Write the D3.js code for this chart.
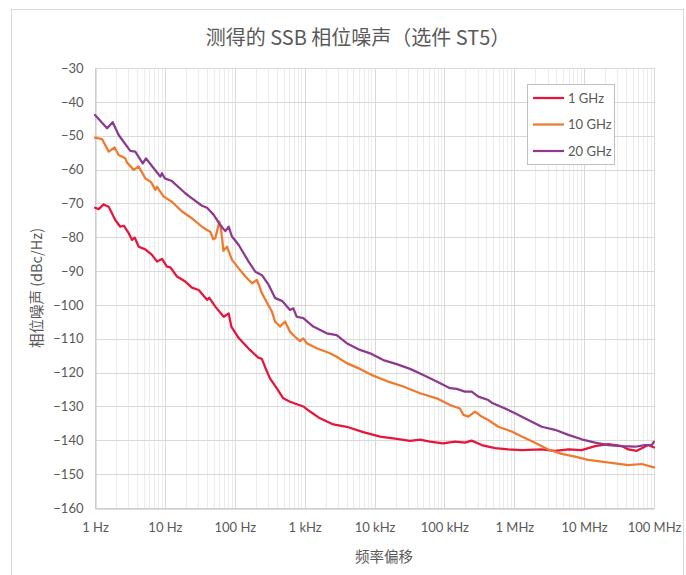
<!DOCTYPE html>
<html>
<head>
<meta charset="utf-8">
<script src="https://cdn.jsdelivr.net/npm/d3@7"></script>
<style>
  html, body { margin: 0; padding: 0; background: #fff; }
  svg { display: block; }
  text { font-family: Lato, "Noto Sans CJK SC", sans-serif; fill: #595959; }
</style>
</head>
<body>
<svg id="chart" width="686" height="575"></svg>
<script>
// Measured SSB phase noise, option ST5
const titleText = "测得的 SSB 相位噪声（选件 ST5）";
const xTitle = "频率偏移";
const yTitle = "相位噪声 (dBc/Hz)";

const xTickValues = [1, 10, 100, 1e3, 1e4, 1e5, 1e6, 1e7, 1e8];
const xTickLabels = ["1 Hz", "10 Hz", "100 Hz", "1 kHz", "10 kHz", "100 kHz", "1 MHz", "10 MHz", "100 MHz"];
const yTickValues = [-30, -40, -50, -60, -70, -80, -90, -100, -110, -120, -130, -140, -150, -160];

const seriesNames = ["1 GHz", "10 GHz", "20 GHz"];
const seriesColors = ["#e8153b", "#ef7a2e", "#8c3a8e"];

// 1 GHz carrier
const freq1 = [1, 1.13, 1.33, 1.57, 1.95, 2.30, 2.58, 3.04, 3.39, 3.70, 4.22, 5.25, 6.54, 7.71, 9.10,
  10.7, 12.0, 14.9, 19.6, 24.4, 30.5, 40.1, 43.2, 52.7, 69.5, 81.9, 89.3, 114, 165, 215, 245, 280,
  319, 398, 495, 618, 957, 1194, 1660, 2572, 4000, 6918, 11990, 20790, 32210, 44780, 62230, 95500,
  141900, 197200, 246000, 342000, 530600, 822800, 1.279e6, 2.472e6, 3.83e6, 5.94e6, 9.23e6,
  1.432e7, 2.22e7, 3.45e7, 4.29e7, 5.65e7, 7.03e7, 8.29e7, 1e8];
const noise1 = [-71.3, -71.7, -70.3, -71.0, -74.9, -76.9, -76.6, -78.8, -80.8, -80.1, -82.8, -83.6, -85.2, -87.2, -86.4,
  -88.7, -88.9, -91.6, -93.1, -94.9, -95.6, -98.5, -97.9, -100.5, -103.5, -102.5, -106.4, -109.8, -113.3, -115.5, -116.0, -119.0,
  -121.7, -124.6, -127.6, -128.6, -130.0, -131.5, -133.5, -135.3, -136.0, -137.6, -138.9, -139.6, -140.2, -139.8, -140.4, -140.9,
  -140.4, -140.7, -140.1, -141.4, -142.3, -142.7, -142.9, -142.7, -143.1, -142.7, -142.9,
  -141.7, -141.1, -141.7, -142.7, -143.1, -142.1, -141.4, -142.1];

// 10 GHz carrier
const freq10 = [1, 1.26, 1.57, 1.91, 2.18, 2.71, 2.87, 3.58, 4.22, 5.25, 6.39, 7.29, 7.71, 9.62,
  12.6, 17.6, 24.4, 34.0, 40.1, 44.7, 49.3, 52.7, 60.1, 63.5, 69.0, 77.4, 91.3, 114, 142, 177, 208, 245,
  341, 377, 444, 524, 618, 728, 859, 957, 1071, 1489, 2307, 2877, 4000, 6194, 9610, 14960, 25820,
  44780, 77620, 120500, 167400, 186700, 220300, 274300, 342000, 425300, 591100, 918300, 1.279e6,
  1.982e6, 3.07e6, 4.77e6, 7.40e6, 1.148e7, 1.785e7, 2.77e7, 4.29e7, 6.67e7, 1e8];
const noise10 = [-50.6, -51.0, -54.7, -53.5, -55.7, -56.7, -57.9, -60.1, -59.1, -62.6, -63.8, -66.0, -65.1, -68.0,
  -69.5, -72.4, -74.4, -76.9, -77.9, -78.4, -80.6, -80.3, -75.4, -77.5, -84.0, -82.8, -86.7, -89.2, -91.6, -93.6, -92.6, -96.6,
  -102.0, -104.9, -106.4, -104.9, -107.9, -109.4, -110.7, -109.9, -111.3, -112.8, -114.3, -115.3, -117.2, -118.9, -120.9, -122.5, -124.1,
  -126.1, -127.6, -129.6, -130.6, -132.5, -133.0, -131.5, -133.0, -134.0, -136.0, -137.4, -138.9,
  -140.7, -142.7, -144.0, -144.8, -145.8, -146.3, -146.8, -147.3, -147.0, -148.0];

// 20 GHz carrier
const freq20 = [1, 1.49, 1.79, 2.18, 3.20, 3.77, 4.82, 5.37, 6.92, 8.61, 9.10, 9.95, 12.6, 19.6, 24.4,
  34.0, 40.1, 50.0, 62.1, 73.3, 81.9, 91.3, 114, 158, 197, 245, 306, 380, 474, 618, 689, 771, 957,
  1331, 2070, 2877, 4000, 6194, 8630, 13370, 20790, 32210, 49940, 77620, 120500, 150000, 197200,
  246000, 306000, 425300, 475400, 737900, 1.026e6, 1.589e6, 2.472e6, 3.83e6, 5.94e6, 9.23e6,
  1.432e7, 2.22e7, 3.45e7, 5.35e7, 7.43e7, 9.27e7, 1e8];
const noise20 = [-43.9, -47.8, -46.0, -49.8, -54.5, -54.7, -58.2, -56.7, -59.6, -62.1, -61.1, -62.6, -63.4, -67.0, -68.5,
  -70.7, -71.3, -73.4, -76.4, -78.2, -76.9, -79.8, -82.3, -87.2, -90.2, -91.2, -94.1, -98.0, -98.8, -101.5, -101.0, -103.5, -103.9,
  -106.4, -108.4, -108.9, -111.3, -113.3, -114.3, -116.3, -117.5, -118.9, -120.7, -122.6, -124.6, -124.8, -125.6,
  -125.6, -127.1, -128.1, -128.9, -130.6, -132.0, -134.0, -136.0, -136.9, -138.4, -139.7,
  -140.7, -141.4, -141.7, -141.9, -141.4, -141.4, -140.4];

const seriesFreqs = [freq1, freq10, freq20];
const seriesNoise = [noise1, noise10, noise20];

const svg = d3.select("#chart");
const plot = { left: 95, right: 654, top: 68, bottom: 508 };

// chart-area frame
svg.append("rect")
  .attr("x", 11.5).attr("y", 9.5)
  .attr("width", 672).attr("height", 620)
  .attr("fill", "#fff").attr("stroke", "#d9d9d9").attr("stroke-width", 1);

const x = d3.scaleLog().domain([1, 1e8]).range([plot.left, plot.right]);
const y = d3.scaleLinear().domain([-160, -30]).range([plot.bottom, plot.top]);

// minor vertical gridlines (2..9 within each decade)
const minorTicks = [];
for (let d = 0; d < 8; d++) {
  for (let m = 2; m <= 9; m++) minorTicks.push(m * Math.pow(10, d));
}
svg.append("g").selectAll("line").data(minorTicks).join("line")
  .attr("x1", d => Math.round(x(d)) + 0.5).attr("x2", d => Math.round(x(d)) + 0.5)
  .attr("y1", plot.top).attr("y2", plot.bottom)
  .attr("stroke", "#ececec").attr("stroke-width", 1);

// major vertical gridlines
svg.append("g").selectAll("line").data(xTickValues).join("line")
  .attr("x1", d => Math.round(x(d)) + 0.5).attr("x2", d => Math.round(x(d)) + 0.5)
  .attr("y1", plot.top).attr("y2", plot.bottom)
  .attr("stroke", "#d9d9d9").attr("stroke-width", 1);

// horizontal gridlines
svg.append("g").selectAll("line").data(yTickValues).join("line")
  .attr("x1", plot.left).attr("x2", plot.right)
  .attr("y1", d => Math.round(y(d)) + 0.5).attr("y2", d => Math.round(y(d)) + 0.5)
  .attr("stroke", "#d9d9d9").attr("stroke-width", 1);

// axes
const xAxis = d3.axisBottom(x).tickValues(xTickValues)
  .tickFormat((d, i) => xTickLabels[i]).tickSize(0).tickPadding(14);
const gx = svg.append("g").attr("transform", `translate(0,${Math.round(plot.bottom) + 0.5})`).call(xAxis);
gx.select(".domain").attr("stroke", "#bfbfbf");
gx.selectAll("text").style("font-size", "13px").attr("fill", "#595959");

const yAxis = d3.axisLeft(y).tickValues(yTickValues).tickSize(0).tickPadding(12);
const gy = svg.append("g").attr("transform", `translate(${plot.left + 0.5},0)`).call(yAxis);
gy.select(".domain").attr("stroke", "#bfbfbf");
gy.selectAll("text").style("font-size", "13px").attr("fill", "#595959");

// series lines
const line = d3.line().x(d => x(d[0])).y(d => y(d[1]));
seriesNames.forEach((name, i) => {
  const pts = seriesFreqs[i].map((f, j) => [f, seriesNoise[i][j]]);
  svg.append("path")
    .datum(pts)
    .attr("d", line)
    .attr("fill", "none")
    .attr("stroke", seriesColors[i])
    .attr("stroke-width", 2.25)
    .attr("stroke-linejoin", "round")
    .attr("stroke-linecap", "round");
});

// title
svg.append("text")
  .attr("x", 358).attr("y", 45)
  .attr("text-anchor", "middle")
  .style("font-family", "'Noto Sans CJK SC', sans-serif")
  .style("font-size", "20px")
  .text(titleText);

// axis titles
svg.append("text")
  .attr("x", 384).attr("y", 562)
  .attr("text-anchor", "middle")
  .style("font-family", "'Noto Sans CJK SC', sans-serif")
  .style("font-size", "14.5px")
  .text(xTitle);

svg.append("text")
  .attr("transform", `translate(42,${(plot.top + plot.bottom) / 2}) rotate(-90)`)
  .attr("text-anchor", "middle")
  .style("font-family", "'Noto Sans CJK SC', sans-serif")
  .style("font-size", "14.5px")
  .text(yTitle);

// legend
const lg = svg.append("g");
lg.append("rect")
  .attr("x", 527.5).attr("y", 84.5).attr("width", 87).attr("height", 80)
  .attr("fill", "#fff").attr("stroke", "#bfbfbf");
seriesNames.forEach((name, i) => {
  const ly = 98 + i * 26.5;
  lg.append("line")
    .attr("x1", 533).attr("x2", 564).attr("y1", ly).attr("y2", ly)
    .attr("stroke", seriesColors[i]).attr("stroke-width", 2.25);
  lg.append("text")
    .attr("x", 568).attr("y", ly + 4.5)
    .style("font-size", "13px")
    .text(name);
});
</script>
</body>
</html>
